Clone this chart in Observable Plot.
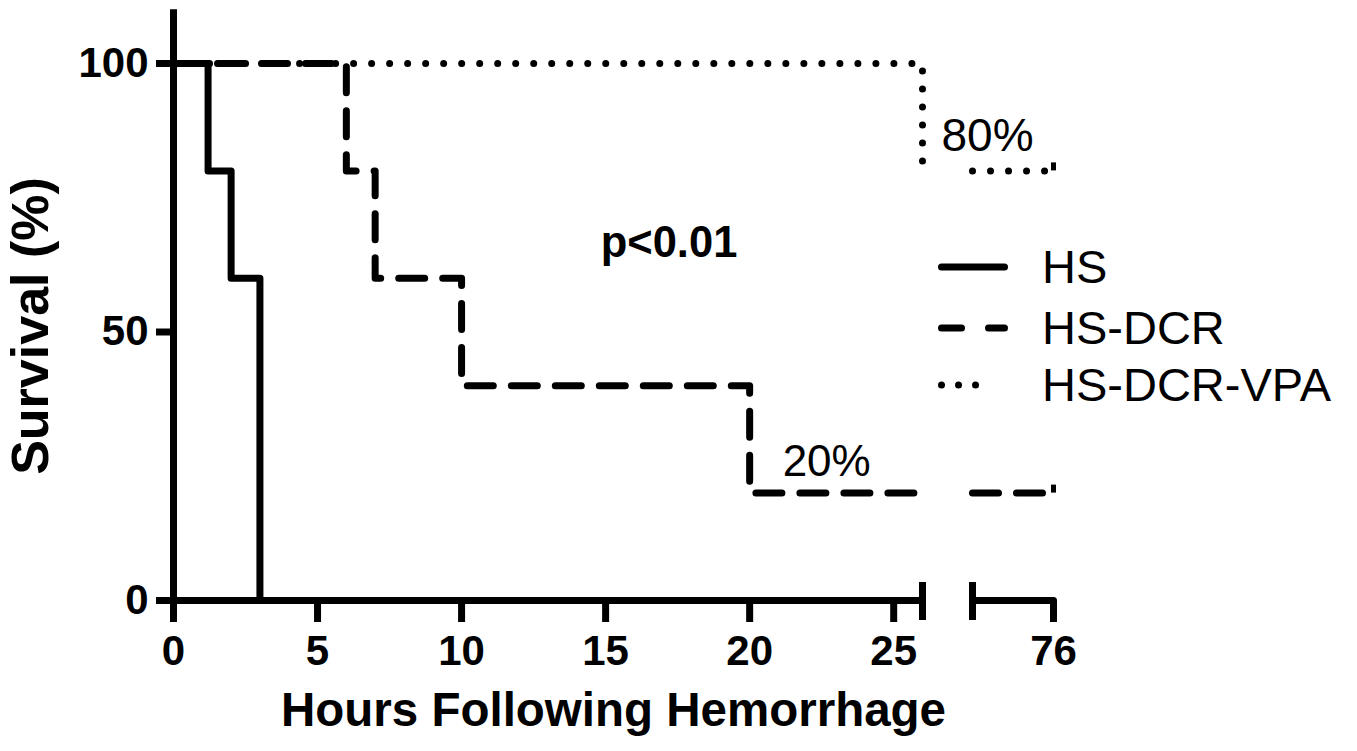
<!DOCTYPE html>
<html>
<head>
<meta charset="utf-8">
<script src="https://cdn.jsdelivr.net/npm/d3@7"></script>
<script src="https://cdn.jsdelivr.net/npm/@observablehq/plot@0.6"></script>
<style>
  html, body { margin: 0; padding: 0; background: #fff; overflow: hidden; }
  #wrap { position: relative; width: 1357px; height: 751px; }
  #legend { position: absolute; left: 0; top: 0; pointer-events: none; }
</style>
</head>
<body>
<div id="wrap"></div>
<script>
// ---------- data ----------
const groups = ["HS", "HS-DCR", "HS-DCR-VPA"];
const hsHours = [0, 1.2, 2, 3];
const hsSurvival = [100, 80, 60, 0];
const dcrHours = [0, 6, 7, 10, 20];
const dcrSurvival = [100, 80, 60, 40, 20];
const vpaHours = [0, 26];
const vpaSurvival = [100, 80];
const followUpEnd = 76;            // last hour of follow-up
const axisBreak = [26, 73];        // x axis is broken between these hours
const xTicks = [0, 5, 10, 15, 20, 25, 76];
const yTicks = [0, 50, 100];
const yAxisTop = 110;
const pLabel = ["p<0.01"];
const pHour = [17.2];
const pSurvival = [64];

// ---------- build tables ----------
function km(name, hours, surv) {
  const last = surv[surv.length - 1];
  const seg1 = hours.map((h, i) => ({group: name, seg: name + "-a", hour: h, survival: surv[i]}));
  seg1.push({group: name, seg: name + "-a", hour: axisBreak[0], survival: last});
  const seg2 = [axisBreak[1], followUpEnd].map(h => ({group: name, seg: name + "-b", hour: h, survival: last}));
  return seg1.concat(seg2);
}
const series = {
  "HS": km("HS", hsHours, hsSurvival),
  "HS-DCR": km("HS-DCR", dcrHours, dcrSurvival),
  "HS-DCR-VPA": km("HS-DCR-VPA", vpaHours, vpaSurvival)
};
const finals = [
  {group: "HS-DCR", hour: followUpEnd, survival: dcrSurvival[dcrSurvival.length - 1]},
  {group: "HS-DCR-VPA", hour: followUpEnd, survival: vpaSurvival[vpaSurvival.length - 1]}
];
const axisSegments = [{x1: 0, x2: axisBreak[0]}, {x1: axisBreak[1], x2: followUpEnd}];
const pRows = pLabel.map((t, i) => ({label: t, hour: pHour[i], survival: pSurvival[i]}));

const lineStyle = {
  "HS": {strokeDasharray: null},
  "HS-DCR": {strokeDasharray: "26 18"},
  "HS-DCR-VPA": {strokeDasharray: "0.01 18"}
};

const W = 7;
const font = "'Liberation Sans', Arial, Helvetica, sans-serif";

const chart = Plot.plot({
  width: 1357,
  height: 751,
  marginLeft: 173,
  marginRight: 304,
  marginTop: 63,
  marginBottom: 151,
  style: {fontFamily: font, background: "white", color: "black", overflow: "visible"},
  x: {type: "linear", domain: [0, axisBreak[0], axisBreak[1], followUpEnd], range: [173, 922, 972, 1053], axis: null},
  y: {domain: [0, 100], range: [600, 63], axis: null},
  marks: [
    // y axis
    Plot.ruleX([0], {x: d => d, y1: () => 0, y2: () => yAxisTop, stroke: "black", strokeWidth: W}),
    Plot.ruleY(yTicks, {y: d => d, x1: () => 0, x2: () => 0, insetLeft: -17, stroke: "black", strokeWidth: W}),
    Plot.text(yTicks, {x: () => 0, y: d => d, text: d => String(d), dx: -25, textAnchor: "end",
      fontSize: 42, fontWeight: "bold", fill: "black"}),
    // broken x axis
    Plot.ruleY(axisSegments, {y: () => 0, x1: "x1", x2: "x2", stroke: "black", strokeWidth: W}),
    Plot.ruleX(axisBreak, {x: d => d, y1: () => 0, y2: () => 0, insetTop: -18, insetBottom: -20, stroke: "black", strokeWidth: W}),
    Plot.ruleX(xTicks, {x: d => d, y1: () => 0, y2: () => 0, insetBottom: -22, stroke: "black", strokeWidth: W}),
    Plot.text(xTicks, {x: d => d, y: () => 0, text: d => String(d), dy: 51,
      fontSize: 42, fontWeight: "bold", fill: "black"}),
    // axis titles
    Plot.text(["Hours Following Hemorrhage"], {frameAnchor: "bottom", text: d => d, textAnchor: "middle", lineAnchor: "bottom", dy: 125,
      fontSize: 47.5, fontWeight: "bold", fill: "black"}),
    Plot.text(["Survival (%)"], {frameAnchor: "left", text: d => d, rotate: -90, textAnchor: "middle", lineAnchor: "middle", dx: -142, dy: -6,
      fontSize: 52, fontWeight: "bold", fill: "black"}),
    // survival curves
    ...groups.map(g => Plot.line(series[g], {
      x: "hour", y: "survival", z: "seg", curve: "step-after",
      stroke: "black", strokeWidth: W, strokeLinecap: "round", strokeLinejoin: "round",
      strokeDasharray: lineStyle[g].strokeDasharray
    })),
    // end-of-follow-up marks
    Plot.ruleX(finals, {x: "hour", y1: "survival", y2: "survival", insetTop: -8, stroke: "black", strokeWidth: 5}),
    // annotations
    Plot.text(finals.filter(d => d.group === "HS-DCR-VPA"), {x: () => axisBreak[0], y: "survival", text: d => d.survival + "%",
      dx: 19, dy: -20, textAnchor: "start", lineAnchor: "bottom", fontSize: 46, fill: "black"}),
    Plot.text(finals.filter(d => d.group === "HS-DCR"), {x: () => dcrHours[dcrHours.length - 1], y: "survival", text: d => d.survival + "%",
      dx: 33, dy: -17, textAnchor: "start", lineAnchor: "bottom", fontSize: 44, fill: "black"}),
    Plot.text(pRows, {x: "hour", y: "survival", text: "label", lineAnchor: "bottom",
      fontSize: 43.5, fontWeight: "bold", fill: "black"})
  ]
});

const wrap = document.getElementById("wrap");
wrap.appendChild(chart);

// ---------- legend (overlay) ----------
const legendRows = [267, 328, 385];
const legendDash = {"HS": null, "HS-DCR": "20 27", "HS-DCR-VPA": "0.01 17"};
const leg = d3.select(wrap).append("svg")
  .attr("id", "legend").attr("width", 1357).attr("height", 751);
const items = leg.selectAll("g").data(groups).join("g")
  .attr("transform", (d, i) => `translate(0,${legendRows[i]})`);
items.append("line")
  .attr("x1", 941.5).attr("x2", (d) => d === "HS-DCR-VPA" ? 990 : 1004.5)
  .attr("y1", 0).attr("y2", 0)
  .attr("stroke", "black").attr("stroke-width", W)
  .attr("stroke-linecap", "round")
  .attr("stroke-dasharray", d => legendDash[d]);
items.append("text")
  .attr("x", 1042).attr("y", 16)
  .attr("font-family", font).attr("font-size", 47)
  .attr("fill", "black")
  .text(d => d);
</script>
</body>
</html>
